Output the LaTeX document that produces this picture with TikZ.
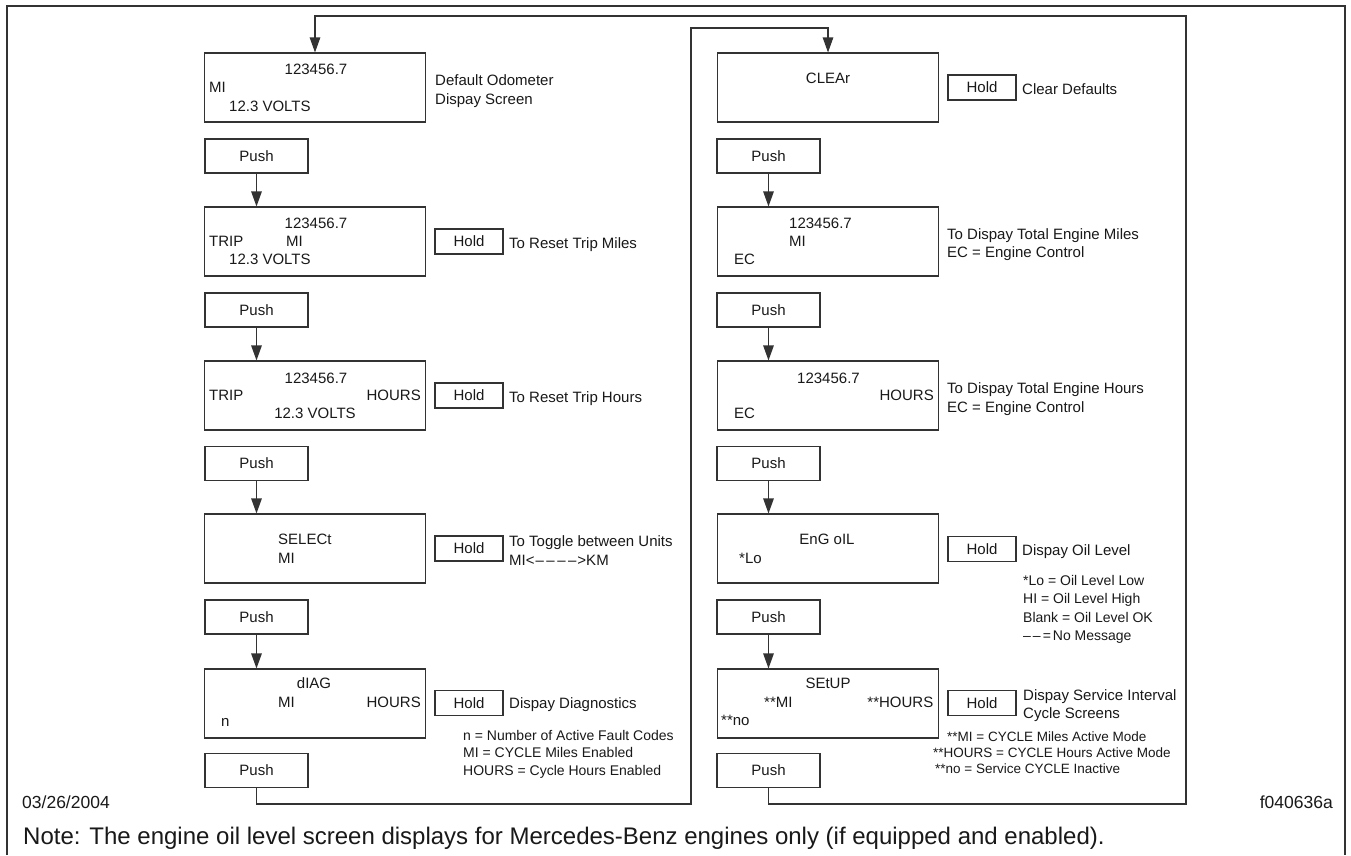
\documentclass[tikz,border=0pt]{standalone}
\usepackage{fontspec}
\setmainfont{Liberation Sans}
\usetikzlibrary{arrows.meta}
\newcommand\myfs[1]{\fontsize{#1}{#1}\selectfont}
\begin{document}
\begin{tikzpicture}[x=1pt,y=-1pt,
 ln/.style={line width=1.1pt, draw=black!80},
 screen/.style={ln, draw, minimum width=220.5pt, minimum height=69pt, inner sep=0pt},
 pushbox/.style={ln, draw, minimum width=103pt, minimum height=34pt, inner sep=0pt, font=\myfs{15}, text=black!90},
 holdbox/.style={ln, draw, minimum width=68pt, minimum height=25pt, inner sep=0pt, font=\myfs{15}, text=black!90},
 tx/.style={inner sep=0pt, font=\myfs{15}, text height=10.7pt, text depth=0pt, text=black!90},
 txl/.style={tx, anchor=west},
 txr/.style={tx, anchor=east},
 nt/.style={inner sep=0pt, font=\myfs{14}, text height=10pt, text depth=0pt, anchor=west, text=black!90},
 ns/.style={inner sep=0pt, font=\myfs{13.5}, text height=9.7pt, text depth=0pt, anchor=west, text=black!90},
 arr/.style={ln, -{Triangle[length=15pt,width=10.5pt]}},
]
\fill[white] (0,0) rectangle (1351,855);
\useasboundingbox (0,0) rectangle (1351,855);
% frame
\draw[ln] (7,855) -- (7,6) -- (1345,6) -- (1345,855);

% ---------------- left column ----------------
\node[screen] (s1) at (315,87.5) {};
\node[tx]  (s1a) at (316,69) {123456.7};
\node[txl] (s1b) at (209,87) {MI};
\node[txl] (s1c) at (229,106) {12.3 VOLTS};
\node[txl] (d1a) at (435,80) {Default Odometer};
\node[txl] (d1b) at (435,99) {Dispay Screen};
\node[pushbox] (p1) at (256.5,156) {Push};

\node[screen] (s2) at (315,241.5) {};
\node[tx]  (s2a) at (316,223) {123456.7};
\node[txl] (s2b) at (209,241) {TRIP};
\node[txl] (s2c) at (286,241) {MI};
\node[txl] (s2d) at (229,259) {12.3 VOLTS};
\node[holdbox] (h2) at (469,241.5) {Hold};
\node[txl] (d2) at (509,243) {To Reset Trip Miles};
\node[pushbox] (p2) at (256.5,310) {Push};

\node[screen] (s3) at (315,395.5) {};
\node[tx]  (s3a) at (316,378) {123456.7};
\node[txl] (s3b) at (209,395) {TRIP};
\node[txr] (s3c) at (421,395) {HOURS};
\node[tx]  (s3d) at (315,413) {12.3 VOLTS};
\node[holdbox] (h3) at (469,395.5) {Hold};
\node[txl] (d3) at (509,397) {To Reset Trip Hours};
\node[pushbox] (p3) at (256.5,463.5) {Push};

\node[screen] (s4) at (315,548.5) {};
\node[txl] (s4a) at (278,539) {SELECt};
\node[txl] (s4b) at (278,558) {MI};
\node[holdbox] (h4) at (469,548.5) {Hold};
\node[txl] (d4a) at (509,541) {To Toggle between Units};
\node[txl] (d4b) at (509,560) {MI<\kern1pt–\kern2.5pt–\kern2.5pt–\kern2.5pt–\kern1pt>KM};
\node[pushbox] (p4) at (256.5,617) {Push};

\node[screen] (s5) at (315,703.5) {};
\node[tx]  (s5a) at (314,683) {dIAG};
\node[txl] (s5b) at (278,702) {MI};
\node[txr] (s5c) at (421,702) {HOURS};
\node[txl] (s5d) at (221,721) {n};
\node[holdbox] (h5) at (469,703) {Hold};
\node[txl] (d5) at (509,703) {Dispay Diagnostics};
\node[nt] (n5a) at (463,735) {n = Number of Active Fault Codes};
\node[nt] (n5b) at (463,752) {MI = CYCLE Miles Enabled};
\node[nt] (n5c) at (463,770) {HOURS = Cycle Hours Enabled};
\node[pushbox] (p5) at (256.5,770.5) {Push};

\draw[arr] (p1.south) -- (p1.south |- s2.north);
\draw[arr] (p2.south) -- (p2.south |- s3.north);
\draw[arr] (p3.south) -- (p3.south |- s4.north);
\draw[arr] (p4.south) -- (p4.south |- s5.north);

% ---------------- right column ----------------
\node[screen] (r1) at (828,87.5) {};
\node[tx] (r1a) at (828,78) {CLEAr};
\node[holdbox] (g1) at (982,87.5) {Hold};
\node[txl] (e1) at (1022,89) {Clear Defaults};
\node[pushbox] (q1) at (768.5,156) {Push};

\node[screen] (r2) at (828,241.5) {};
\node[txl] (r2a) at (789,223) {123456.7};
\node[txl] (r2b) at (789,241) {MI};
\node[txl] (r2c) at (734,259) {EC};
\node[txl] (e2a) at (947,234) {To Dispay Total Engine Miles};
\node[txl] (e2b) at (947,252) {EC = Engine Control};
\node[pushbox] (q2) at (768.5,310) {Push};

\node[screen] (r3) at (828,395.5) {};
\node[txl] (r3a) at (797,378) {123456.7};
\node[txr] (r3b) at (934,395) {HOURS};
\node[txl] (r3c) at (734,413) {EC};
\node[txl] (e3a) at (947,388) {To Dispay Total Engine Hours};
\node[txl] (e3b) at (947,407) {EC = Engine Control};
\node[pushbox] (q3) at (768.5,463.5) {Push};

\node[screen] (r4) at (828,548.5) {};
\node[tx]  (r4a) at (827,539) {EnG oIL};
\node[txl] (r4b) at (739,558) {*Lo};
\node[holdbox] (g4) at (982,549) {Hold};
\node[txl] (e4) at (1022,550) {Dispay Oil Level};
\node[nt] (m4a) at (1023,580) {*Lo = Oil Level Low};
\node[nt] (m4b) at (1023,598) {HI = Oil Level High};
\node[nt] (m4c) at (1023,617) {Blank = Oil Level OK};
\node[nt] (m4d) at (1023,635) {–\kern2pt–\kern2pt=\kern2pt No Message};
\node[pushbox] (q4) at (768.5,617) {Push};

\node[screen] (r5) at (828,703.5) {};
\node[tx]  (r5a) at (828,683) {SEtUP};
\node[txl] (r5b) at (764,702) {**MI};
\node[txr] (r5c) at (933.5,702) {**HOURS};
\node[txl] (r5d) at (721,720) {**no};
\node[holdbox] (g5) at (982,703) {Hold};
\node[txl] (e5a) at (1023,695) {Dispay Service Interval};
\node[txl] (e5b) at (1023,713) {Cycle Screens};
\node[ns] (m5a) at (947,737) {**MI = CYCLE Miles Active Mode};
\node[ns] (m5b) at (933,753) {**HOURS = CYCLE Hours Active Mode};
\node[ns] (m5c) at (935,769) {**no = Service CYCLE Inactive};
\node[pushbox] (q5) at (768.5,770.5) {Push};

\draw[arr] (q1.south) -- (q1.south |- r2.north);
\draw[arr] (q2.south) -- (q2.south |- r3.north);
\draw[arr] (q3.south) -- (q3.south |- r4.north);
\draw[arr] (q4.south) -- (q4.south |- r5.north);

% ---------------- loops ----------------
\coordinate (c1) at (256.5,804);
\coordinate (c2) at (691,804);
\coordinate (c3) at (691,28);
\draw[arr] (p5.south) -- (c1) -- (c2) -- (c3) -| (r1.north);
\coordinate (o1) at (768.5,804);
\coordinate (o2) at (1186,804);
\coordinate (o3) at (1186,16);
\draw[arr] (q5.south) -- (o1) -- (o2) -- (o3) -| (s1.north);

% ---------------- footer ----------------
\node[inner sep=0pt, anchor=west, font=\myfs{17.5}, text height=12.5pt, text depth=0pt, text=black!90] (date) at (22,802) {03/26/2004};
\node[inner sep=0pt, anchor=east, font=\myfs{17.5}, text height=12.5pt, text depth=0pt, text=black!90] (fig) at (1333,802) {f040636a};
\node[inner sep=0pt, anchor=west, font=\myfs{24}, text height=17pt, text depth=0pt, text=black!90] (note) at (23,836) {Note: The engine oil level screen displays for Mercedes-Benz engines only (if equipped and enabled).};
\end{tikzpicture}
\end{document}
